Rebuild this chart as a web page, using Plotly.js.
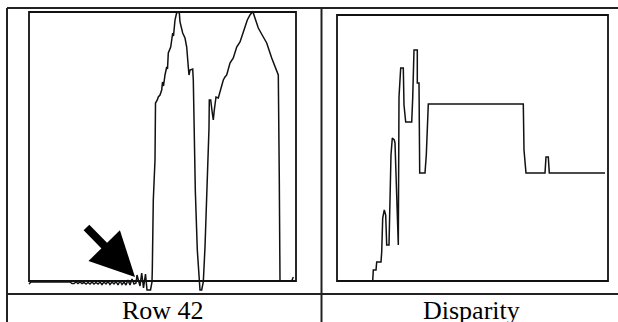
<!DOCTYPE html>
<html>
<head>
<meta charset="utf-8">
<script src="https://cdn.plot.ly/plotly-3.0.1.min.js"></script>
<style>html,body{margin:0;padding:0;background:#fff;}#chart{width:618px;height:322px;}</style>
</head>
<body>
<div id="chart"></div>
<script>
// ---- Data: Row 42 intensity profile (column index, intensity) ----
const rowX = [0, 2, 41,
  43,45,47,49,51,53,55,57,59,61,63,65,67,69,71,73,75,77,79,81,83,85,87,89,91,93,95,97,99,101,103,105,
  107,108,111,112.7,114.5,116.5,118,121.5,123,123.3,123.7,124.3,126,126.5,128.3,129.3,131,132.7,133.5,134.5,136,137.7,138.5,139.3,141.7,143.7,144.5,146,147.7,150.3,151,153.7,156,157.7,159.3,160,161,163.7,164.3,165.3,166.3,168.3,170,171,172.7,174.3,176,177.7,178.3,180,180.3,181.7,183.3,184.3,185.3,187,189.3,191,192.7,194.3,196,197.7,201,204.3,207.7,211,216,218.3,221,223.3,224.3,229.3,234.3,237.7,242.7,246,249.3,250.3,251,262.7,264.3];
const rowVal = [-3, -1, -1,
  -2.5,-2.5,-1,-2.5,-1,-2.5,-1.5,-3,-1.5,-3,-1,-3,-1.5,-3,-1,-3.5,-1,-3,-0.5,-3.5,-1,-3,-0.5,-4,0,-3.5,-1,-4,1,-4,2,-3,
  -2,6,-5,8,-7,7,-9,-9,-1,11,36,81,121,178,181,184,186,191,199,195,206,214,212,228,234,248,245,261,268.5,268.5,259,248,243,234,214,206,211,212,201,141,91,31,4,-9,-9,-1,34,81,118,153,181,181,168,161,171,184,183,189,193,201,204,206,218,223,234,239,254,261,266,269,268,253,244,238,223,214,206,101,0,0,4];

// ---- Data: Disparity profile (column index, disparity) ----
const dispX = [35.7,36.3,39,39.7,44,44.7,45.7,47.3,48.7,49.7,52,53,54,55.3,57.3,58,59.3,60.7,61.3,62,63.7,66.3,67,68.7,74.7,75.7,77,80.3,80.3,82,82.7,88,89.3,91.3,186.3,187,189,208,209,211.3,212.3,268];
const dispVal = [0,11,11,19,19,29,63,71,66,36,36,80,126,143,141,138,101,68,36,184,213,213,176,159,159,183,231,231,198,198,108,108,126,177,177,131,108,108,124,124,108,108];

// ---- Labels ----
const cellLabels = ['Row 42', 'Disparity'];

// ---- Layout helpers (pixel -> paper) ----
const W = 618, H = 322;
const px = x => x / W;
const py = y => (H - y) / H;
const tableLine = {color: '#222', width: 2};
const frameLine = {color: '#111', width: 1.8};
const dataLine = {color: '#111', width: 1.5};

const traces = [
  {x: rowX, y: rowVal, type: 'scatter', mode: 'lines', line: dataLine, xaxis: 'x', yaxis: 'y', hoverinfo: 'skip'},
  {x: dispX, y: dispVal, type: 'scatter', mode: 'lines', line: dataLine, xaxis: 'x2', yaxis: 'y2', hoverinfo: 'skip'}
];

const layout = {
  width: W, height: H,
  margin: {l: 0, r: 0, t: 0, b: 0},
  paper_bgcolor: '#fff', plot_bgcolor: 'rgba(0,0,0,0)',
  showlegend: false,
  xaxis: {domain: [px(26), px(299)], range: [-3, 270], visible: false},
  yaxis: {domain: [py(293), py(9)], range: [-12, 272], visible: false},
  xaxis2: {domain: [px(334), px(611)], range: [-3, 274], visible: false, anchor: 'y2'},
  yaxis2: {domain: [py(284), py(12)], range: [-3, 269], visible: false, anchor: 'x2'},
  shapes: [
    {type: 'line', xref: 'paper', yref: 'paper', x0: px(7), x1: 1, y0: py(8), y1: py(8), line: tableLine},
    {type: 'line', xref: 'paper', yref: 'paper', x0: px(7), x1: px(7), y0: py(8), y1: 0, line: tableLine},
    {type: 'line', xref: 'paper', yref: 'paper', x0: px(321.5), x1: px(321.5), y0: py(8), y1: 0, line: tableLine},
    {type: 'line', xref: 'paper', yref: 'paper', x0: px(7), x1: 1, y0: py(294), y1: py(294), line: tableLine},
    {type: 'rect', xref: 'x', yref: 'y', x0: 0, x1: 267, y0: 0, y1: 269, line: frameLine},
    {type: 'rect', xref: 'x2', yref: 'y2', x0: 0, x1: 271, y0: 0, y1: 266, line: frameLine}
  ],
  annotations: [
    {xref: 'paper', yref: 'paper', x: px(162.5), y: py(310), xanchor: 'center', yanchor: 'middle',
     text: cellLabels[0], showarrow: false, font: {family: 'Liberation Serif', size: 26, color: '#000'}},
    {xref: 'paper', yref: 'paper', x: px(471.7), y: py(310), xanchor: 'center', yanchor: 'middle',
     text: cellLabels[1], showarrow: false, font: {family: 'Liberation Serif', size: 26, color: '#000'}},
    {xref: 'x', yref: 'y', x: 106, y: 4, ax: -50, ay: -51, text: '', showarrow: true,
     arrowhead: 2, arrowwidth: 8, arrowsize: 1.1, arrowcolor: '#000', standoff: 0}
  ]
};

Plotly.newPlot('chart', traces, layout, {staticPlot: true, displayModeBar: false});
</script>
</body>
</html>
